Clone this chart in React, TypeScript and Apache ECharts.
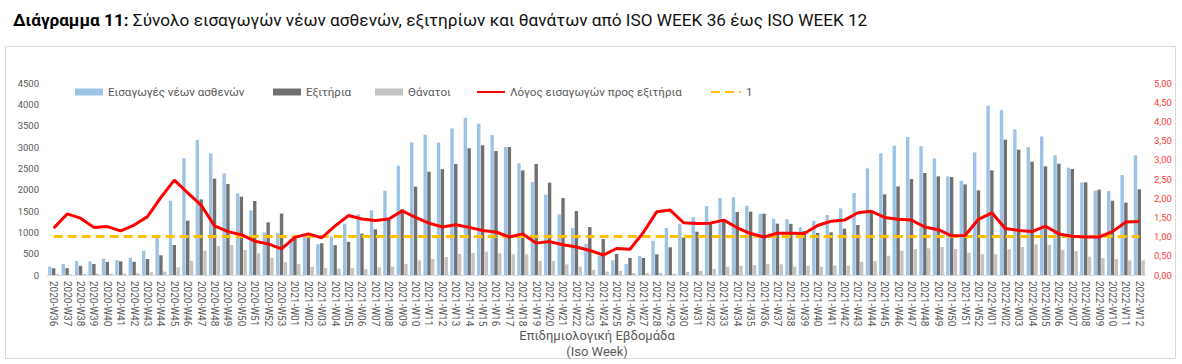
import React, { useEffect, useRef } from "react";
import * as echarts from "echarts";

const weeks: string[] = [
  "2020-W36", "2020-W37", "2020-W38", "2020-W39", "2020-W40", "2020-W41", "2020-W42", "2020-W43", "2020-W44",
  "2020-W45", "2020-W46", "2020-W47", "2020-W48", "2020-W49", "2020-W50", "2020-W51", "2020-W52", "2020-W53",
  "2021-W01", "2021-W02", "2021-W03", "2021-W04", "2021-W05", "2021-W06", "2021-W07", "2021-W08", "2021-W09",
  "2021-W10", "2021-W11", "2021-W12", "2021-W13", "2021-W14", "2021-W15", "2021-W16", "2021-W17", "2021-W18",
  "2021-W19", "2021-W20", "2021-W21", "2021-W22", "2021-W23", "2021-W24", "2021-W25", "2021-W26", "2021-W27",
  "2021-W28", "2021-W29", "2021-W30", "2021-W31", "2021-W32", "2021-W33", "2021-W34", "2021-W35", "2021-W36",
  "2021-W37", "2021-W38", "2021-W39", "2021-W40", "2021-W41", "2021-W42", "2021-W43", "2021-W44", "2021-W45",
  "2021-W46", "2021-W47", "2021-W48", "2021-W49", "2021-W50", "2021-W51", "2021-W52", "2022-W01", "2022-W02",
  "2022-W03", "2022-W04", "2022-W05", "2022-W06", "2022-W07", "2022-W08", "2022-W09", "2022-W10", "2022-W11",
  "2022-W12",
];

const admissions: number[] = [
  195, 258, 328, 320, 383, 351, 406, 570, 945, 1742, 2734, 3171, 2851, 2382, 1913, 1515, 1000, 984,
  859, 925, 720, 900, 1203, 1421, 1515, 1976, 2562, 3108, 3288, 3108, 3436, 3686, 3546, 3280, 2999, 2616,
  2179, 1882, 1421, 1101, 726, 445, 344, 258, 445, 804, 1101, 1195, 1359, 1617, 1804, 1820, 1624, 1437,
  1320, 1305, 1117, 1273, 1406, 1562, 1921, 2499, 2851, 3030, 3233, 3022, 2734, 2312, 2210, 2874,
  3967, 3866, 3413, 2999, 3249, 2804, 2515, 2171, 1976, 1968, 2343, 2804,
];

const discharges: number[] = [
  156, 160, 215, 258, 305, 320, 310, 375, 461, 703, 1273, 1773, 2257, 2132, 1835, 1734, 1234, 1440,
  859, 870, 745, 700, 775, 970, 1070, 1350, 1540, 2070, 2420, 2480, 2600, 2970, 3040, 2905, 2999, 2452,
  2601, 2163, 1804, 1500, 1125, 843, 492, 398, 398, 484, 648, 875, 1015, 1195, 1262, 1476, 1484, 1437,
  1203, 1200, 1031, 984, 1000, 1086, 1172, 1515, 1890, 2077, 2249, 2390, 2312, 2296, 2124, 1984,
  2452, 3171, 2937, 2655, 2546, 2608, 2484, 2171, 2000, 1742, 1695, 2007,
];

const deaths: number[] = [
  20, 15, 20, 30, 30, 35, 45, 65, 78, 180, 336, 570, 680, 703, 586, 508, 406, 300,
  260, 190, 168, 150, 165, 135, 180, 195, 258, 344, 375, 422, 492, 515, 547, 508, 484, 484,
  328, 328, 250, 195, 117, 78, 94, 47, 47, 55, 31, 70, 94, 140, 195, 219, 234, 258,
  250, 195, 219, 195, 225, 225, 312, 328, 453, 570, 609, 625, 656, 609, 523, 484,
  484, 601, 656, 718, 703, 594, 562, 430, 398, 375, 344, 344,
];

const ratio: number[] = [
  1.22, 1.59, 1.48, 1.24, 1.26, 1.15, 1.3, 1.52, 2.02, 2.47, 2.14, 1.82, 1.28, 1.13, 1.05, 0.88, 0.81, 0.68,
  0.98, 1.07, 0.97, 1.28, 1.55, 1.46, 1.42, 1.46, 1.67, 1.5, 1.35, 1.25, 1.31, 1.24, 1.16, 1.12, 0.99, 1.07,
  0.83, 0.87, 0.79, 0.73, 0.64, 0.52, 0.69, 0.67, 1.11, 1.65, 1.69, 1.36, 1.34, 1.35, 1.43, 1.23, 1.08, 0.99,
  1.09, 1.09, 1.08, 1.29, 1.4, 1.43, 1.62, 1.66, 1.5, 1.45, 1.43, 1.25, 1.18, 1.02, 1.03, 1.45,
  1.62, 1.21, 1.16, 1.13, 1.27, 1.07, 1.01, 0.99, 0.99, 1.13, 1.38, 1.39,
];

const referenceLevel: number[] = weeks.map(() => 1);

const leftTicks = { min: 0, max: 4500, interval: 500 };
const rightTicks = { min: 0, max: 5, interval: 0.5 };

const FONT = "Roboto";
const GREY_TXT = "#595959";

export default function App() {
  const ref = useRef<HTMLDivElement>(null);

  useEffect(() => {
    if (!ref.current) return;
    const chart = echarts.init(ref.current, null, { renderer: "svg" });
    const legendBase = {
      top: 81,
      itemGap: 0,
      itemWidth: 28,
      itemHeight: 7,
      textStyle: { color: GREY_TXT, fontSize: 11.6, fontFamily: FONT },
      selectedMode: false as const,
    };
    chart.setOption({
      animation: false,
      textStyle: { fontFamily: FONT },
      title: {
        left: 8,
        top: 6,
        text: "{b|Διάγραμμα 11:} Σύνολο εισαγωγών νέων ασθενών, εξιτηρίων και θανάτων από ISO WEEK 36 έως ISO WEEK 12",
        textStyle: {
          fontSize: 17.2,
          fontWeight: "normal",
          color: "#111111",
          fontFamily: FONT,
          rich: {
            b: { fontSize: 17.2, fontWeight: "bold", color: "#000000", fontFamily: FONT },
          },
        },
      },
      legend: [
        { ...legendBase, left: 70, data: [{ name: "Εισαγωγές νέων ασθενών", icon: "rect" }] },
        { ...legendBase, left: 268, data: [{ name: "Εξιτήρια", icon: "rect" }] },
        { ...legendBase, left: 370, data: [{ name: "Θάνατοι", icon: "rect" }] },
        {
          ...legendBase,
          left: 471,
          itemWidth: 28,
          data: [{ name: "Λόγος εισαγωγών προς εξιτήρια", itemStyle: { opacity: 0 } }],
        },
        { ...legendBase, left: 705, itemWidth: 30, data: [{ name: "1", itemStyle: { opacity: 0 } }] },
      ],
      grid: { left: 47, right: 36, top: 83, bottom: 89 },
      xAxis: {
        type: "category",
        data: weeks,
        boundaryGap: true,
        axisLine: { show: true, lineStyle: { color: "#d9d9d9", width: 1 } },
        axisTick: { show: false },
        axisLabel: {
          interval: 0,
          rotate: -90,
          fontSize: 10,
          color: GREY_TXT,
          margin: 6,
          fontFamily: FONT,
        },
      },
      yAxis: [
        {
          type: "value",
          ...leftTicks,
          splitLine: { show: false },
          axisLine: { show: false },
          axisTick: { show: false },
          axisLabel: {
            fontSize: 9.5,
            color: GREY_TXT,
            margin: 8,
            fontFamily: FONT,
            formatter: (v: number) => String(v),
          },
        },
        {
          type: "value",
          ...rightTicks,
          position: "right",
          splitLine: { show: false },
          axisLine: { show: false },
          axisTick: { show: false },
          axisLabel: {
            fontSize: 9.5,
            color: "#FF3B3B",
            margin: 8,
            fontFamily: FONT,
            formatter: (v: number) => v.toFixed(2).replace(".", ","),
          },
        },
      ],
      series: [
        {
          name: "Εισαγωγές νέων ασθενών",
          type: "bar",
          data: admissions,
          barWidth: 3.4,
          barGap: "12%",
          itemStyle: { color: "#9DC3E6" },
        },
        {
          name: "Εξιτήρια",
          type: "bar",
          data: discharges,
          barWidth: 3.4,
          barGap: "12%",
          itemStyle: { color: "#707070" },
        },
        {
          name: "Θάνατοι",
          type: "bar",
          data: deaths,
          barWidth: 3.4,
          barGap: "12%",
          itemStyle: { color: "#C3C3C3" },
        },
        {
          name: "Λόγος εισαγωγών προς εξιτήρια",
          type: "line",
          yAxisIndex: 1,
          data: ratio,
          symbol: "none",
          lineStyle: { color: "#FF0000", width: 3 },
          itemStyle: { color: "#FF0000" },
          z: 5,
        },
        {
          name: "1",
          type: "line",
          yAxisIndex: 1,
          data: referenceLevel,
          symbol: "none",
          lineStyle: { color: "#FFC000", width: 3, type: [9, 5] },
          itemStyle: { color: "#FFC000" },
          z: 4,
        },
      ],
      graphic: [
        {
          type: "rect",
          shape: { x: 5.5, y: 46.5, width: 1170, height: 312 },
          style: { fill: "none", stroke: "#d9d9d9", lineWidth: 1 },
          silent: true,
          z: -10,
        },
        {
          type: "text",
          x: 597,
          y: 335,
          style: {
            text: "Επιδημιολογική Εβδομάδα",
            fill: GREY_TXT,
            fontSize: 13,
            fontFamily: FONT,
            align: "center",
            verticalAlign: "middle",
          },
        },
        {
          type: "text",
          x: 597,
          y: 351,
          style: {
            text: "(Iso Week)",
            fill: GREY_TXT,
            fontSize: 13,
            fontFamily: FONT,
            align: "center",
            verticalAlign: "middle",
          },
        },
      ],
    });
    return () => chart.dispose();
  }, []);

  return (
    <div
      ref={ref}
      style={{ position: "absolute", left: 0, top: 0, width: 1182, height: 364, background: "#ffffff" }}
    />
  );
}
